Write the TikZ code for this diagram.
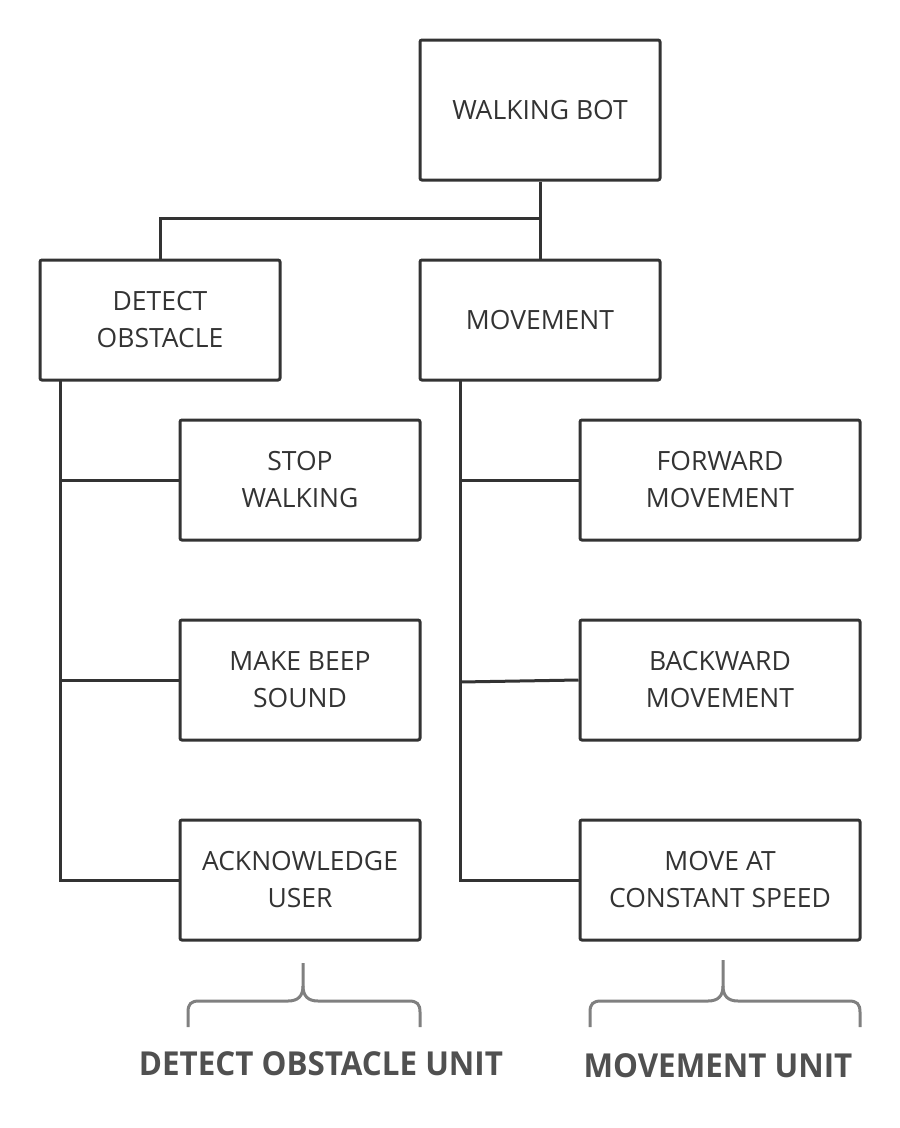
\documentclass[tikz,border=0pt]{standalone}
\usepackage{fontspec}
\setmainfont{Open Sans}
\newfontfamily\unitfont[FakeStretch=0.95]{Open Sans Bold}
\usetikzlibrary{positioning}
\definecolor{ink}{HTML}{333333}
\definecolor{bracec}{HTML}{808080}
\definecolor{unitc}{HTML}{505050}
\begin{document}
\begin{tikzpicture}[x=1pt,y=-1pt,
  box/.style={draw=ink,line width=3pt,rounded corners=2pt,text=ink,align=center,
    font=\fontsize{26.5}{37}\selectfont,inner sep=0pt},
  wide/.style={box,minimum width=240pt,minimum height=120pt},
  wider/.style={box,minimum width=280pt,minimum height=120pt},
  link/.style={draw=ink,line width=3pt},
  bracket/.style={draw=bracec,line width=3pt},
  unit/.style={text=unitc,font=\unitfont\fontsize{33}{36}\selectfont,inner sep=0pt}]
\useasboundingbox (0,0) rectangle (900,1128);
\node[wide,minimum height=140pt] (wb) at (540,110) {WALKING BOT};
\node[wide] (do) at (160,320) {DETECT\\OBSTACLE};
\node[wide] (mv) at (540,320) {MOVEMENT};
\node[wide] (c1) at (300,480) {STOP\\WALKING};
\node[wide] (c2) at (300,680) {MAKE BEEP\\SOUND};
\node[wide] (c3) at (300,880) {ACKNOWLEDGE\\USER};
\node[wider] (m1) at (720,480) {FORWARD\\MOVEMENT};
\node[wider] (m2) at (720,680) {BACKWARD\\MOVEMENT};
\node[wider] (m3) at (720,880) {MOVE AT\\CONSTANT SPEED};
\coordinate (j) at (540,218);
\coordinate (ls) at (60,380);
\coordinate (rs) at (460,380);
\draw[link] (wb.south) -- (mv.north);
\draw[link] (do.north) |- (j);
\draw[link] (ls) |- (c3.west);
\draw[link] (ls |- c1.west) -- (c1.west);
\draw[link] (ls |- c2.west) -- (c2.west);
\draw[link] (rs) |- (m3.west);
\draw[link] (rs |- m1.west) -- (m1.west);
\draw[link] ([yshift=-2pt]rs |- m2.west) -- (m2.west);
% braces
\coordinate (p1) at (303,963);
\coordinate (p2) at (723,960);
\draw[bracket] (188,1027) -- (188,1012) .. controls (188,1004) and (191,1001) .. (199,1001)
  -- (288,1001) .. controls (298,1001) and (303,996) .. (303,986) -- (p1);
\draw[bracket] (420,1027) -- (420,1012) .. controls (420,1004) and (417,1001) .. (409,1001)
  -- (318,1001) .. controls (308,1001) and (303,996) .. (303,986);
\draw[bracket] (590,1027) -- (590,1012) .. controls (590,1004) and (593,1001) .. (601,1001)
  -- (708,1001) .. controls (718,1001) and (723,996) .. (723,986) -- (p2);
\draw[bracket] (860,1027) -- (860,1012) .. controls (860,1004) and (857,1001) .. (849,1001)
  -- (738,1001) .. controls (728,1001) and (723,996) .. (723,986);
\node[unit] (u1) at (321,1064) {DETECT OBSTACLE UNIT};
\node[unit] (u2) at (718,1066) {MOVEMENT UNIT};
\end{tikzpicture}
\end{document}
